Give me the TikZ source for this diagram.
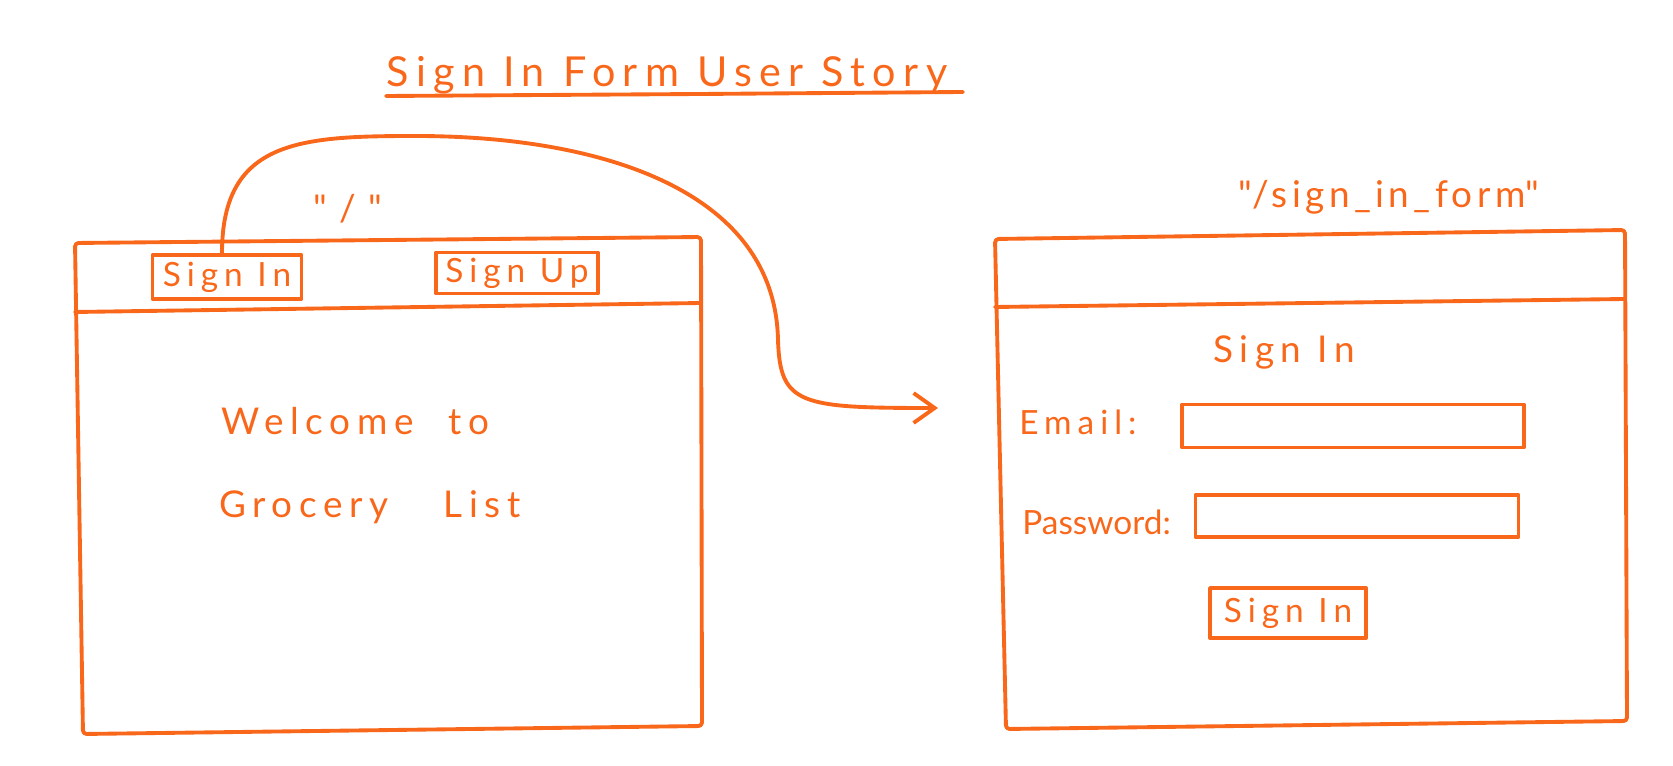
\documentclass[tikz,border=0pt]{standalone}
\usepackage{fontspec}
\setmainfont{Lato}[LetterSpace=18]
\usepackage{xcolor}
\usepackage{tikz}
\usetikzlibrary{arrows.meta,positioning}
\definecolor{sketchorange}{HTML}{F9671A}
\tikzset{
  pen/.style={draw=sketchorange,line width=2.2pt,line cap=round,line join=round},
  window line/.style={pen,rounded corners=2pt},
  scribble/.style={text=sketchorange,inner sep=0pt,font=\fontsize{21}{25}\selectfont},
  button/.style={pen,rectangle,inner sep=0pt,text=sketchorange,
    font=\fontsize{19}{22}\selectfont},
  field/.style={pen,rectangle,inner sep=0pt},
  flow/.style={pen,-{Straight Barb[length=12pt,width=17pt,line width=2.2pt]}}
}

\begin{document}
\begin{tikzpicture}[x=0.02cm,y=-0.02cm]
  \useasboundingbox (0,0) rectangle (1673,766);
  \node[scribble,anchor=base west,font=\fontsize{23.5}{28}\selectfont] (title) at (386,87)
    {Sign In Form User Story};
  \draw[pen] (386,96) -- (700,94) -- (963,92);

  \draw[window line] (75,243) -- (701,237) -- (702,726) -- (83,734) -- cycle;
  \draw[pen] (75,312) -- (701,303);
  \node[button,minimum width=2.98cm,minimum height=0.88cm] (signin) at (227,277) {Sign In};
  \node[button,minimum width=3.24cm,minimum height=0.82cm] (signup) at (517,273) {Sign Up};
  \node[scribble,anchor=base west] (welcome) at (221,435) {Welcome\hspace{0.7cm}to};
  \node[scribble,anchor=base west] (grocery) at (219,518) {Grocery\hspace{1.1cm}List};
  \node[scribble,anchor=base] (homeroute) at (348,222)
    {\textquotedbl\hspace{0.25cm}/\hspace{0.25cm}\textquotedbl};

  \draw[window line] (995,239) -- (1625,230) -- (1627,721) -- (1006,729) -- cycle;
  \draw[pen] (995,307) -- (1625,299);
  \node[scribble,anchor=base west,font=\fontsize{21}{25}\selectfont\addfontfeature{LetterSpace=12}]
    (formroute) at (1238,208) {\textquotedbl/sign\_in\_form\textquotedbl};
  \node[scribble,anchor=base] (heading) at (1284,363) {Sign In};
  \node[field,minimum width=6.84cm,minimum height=0.86cm] (email) at (1353,426) {};
  \node[field,minimum width=6.46cm,minimum height=0.84cm] (password) at (1357,516) {};
  \node[scribble,anchor=base west,font=\fontsize{19}{22}\selectfont] (emaillabel) at (1019,435) {Email:};
  \node[scribble,anchor=base west,font=\fontsize{19}{22}\selectfont\addfontfeature{LetterSpace=0}]
    (passlabel) at (1022,535) {Password:};
  \node[button,minimum width=3.12cm,minimum height=1.0cm] (submit) at (1288,613) {Sign In};

  \coordinate (goal) at (938,408);
  \draw[flow] ([xshift=-0.1cm]signin.north) .. controls (222,140) and (300,136) .. (416,136)
    .. controls (600,136) and (775,190) .. (778,340)
    .. controls (780,405) and (800,408) .. (goal);
\end{tikzpicture}
\end{document}
